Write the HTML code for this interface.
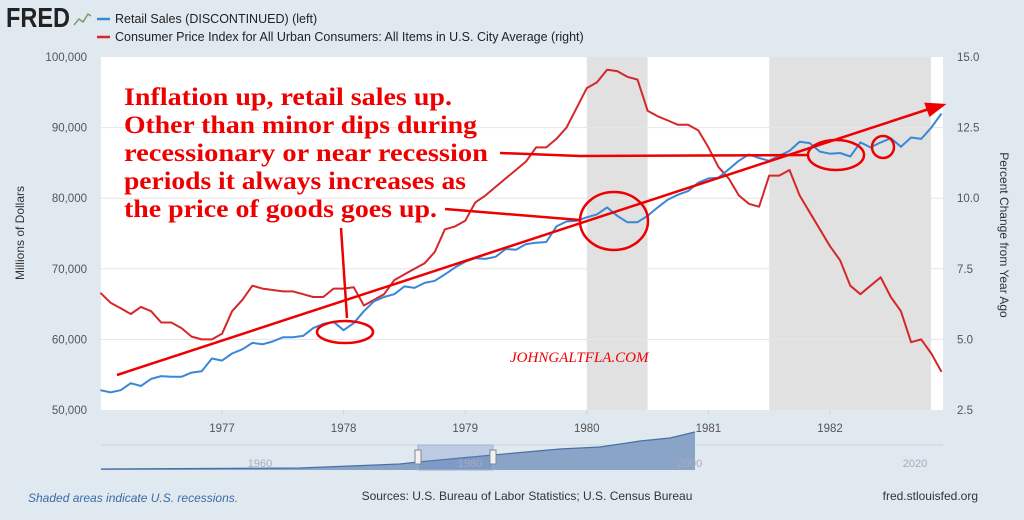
<!DOCTYPE html>
<html><head><meta charset="utf-8"><style>
html,body{margin:0;padding:0;background:#e1e9f0;}
body{width:1024px;height:520px;overflow:hidden;font-family:"Liberation Sans",sans-serif;}
svg{display:block}
</style></head><body>
<svg id="chart" width="1024" height="520" xmlns="http://www.w3.org/2000/svg">
<rect width="1024" height="520" fill="#e1e9f0"/>
<g>
<text x="6" y="27" font-size="28" font-weight="bold" fill="#222" font-family="Liberation Sans, sans-serif" textLength="64" lengthAdjust="spacingAndGlyphs">FRED</text>
<polyline points="74,25 79,19 83,22 88,14 91,16" fill="none" stroke="#7a9b6a" stroke-width="1.5"/>
</g>
<g>
<line x1="97" y1="19" x2="110" y2="19" stroke="#3a87d8" stroke-width="2.5"/>
<text x="115" y="23" font-size="12.5" fill="#222">Retail Sales (DISCONTINUED) (left)</text>
<line x1="97" y1="37" x2="110" y2="37" stroke="#d62728" stroke-width="2.5"/>
<text x="115" y="41" font-size="12.5" fill="#222">Consumer Price Index for All Urban Consumers: All Items in U.S. City Average (right)</text>
</g>
<rect x="101" y="57" width="842" height="353" fill="#fff"/>
<g id="rec"></g><g id="grid"></g><g id="ticks"></g><g id="series"></g>
<text transform="translate(24,233) rotate(-90)" text-anchor="middle" font-size="12" fill="#333">Millions of Dollars</text>
<text transform="translate(1000,235) rotate(90)" text-anchor="middle" font-size="12" fill="#333">Percent Change from Year Ago</text>
<g>
<line x1="101" y1="445" x2="943" y2="445" stroke="#c8d2dc"/>
<path d="M101,469 L300,468 L400,464 L418,462 L493,455 L560,449 L600,447 L640,441 L670,438 L695,432 L695,470 L101,470 Z" fill="#8aa4c8"/>
<polyline points="101,469 300,468 400,464 418,462 493,455 560,449 600,447 640,441 670,438 695,432" fill="none" stroke="#4a6fa5" stroke-width="1.2"/>
<rect x="418" y="445" width="75" height="25" fill="rgba(102,133,194,0.3)" stroke="#9fb2d0"/>
<rect x="415" y="450" width="6" height="14" fill="#f2f2f2" stroke="#888"/>
<rect x="490" y="450" width="6" height="14" fill="#f2f2f2" stroke="#888"/>
<text x="260" y="467" font-size="11" fill="#aab" text-anchor="middle">1960</text>
<text x="470" y="467" font-size="11" fill="#aab" text-anchor="middle">1980</text>
<text x="690" y="467" font-size="11" fill="#aab" text-anchor="middle">2000</text>
<text x="915" y="467" font-size="11" fill="#aab" text-anchor="middle">2020</text>
</g>
<text x="28" y="502" font-size="12" font-style="italic" fill="#3a6ba8">Shaded areas indicate U.S. recessions.</text>
<text x="527" y="500" font-size="12" fill="#333" text-anchor="middle">Sources: U.S. Bureau of Labor Statistics; U.S. Census Bureau</text>
<text x="978" y="500" font-size="12" fill="#333" text-anchor="end">fred.stlouisfed.org</text>
<g font-family="Liberation Serif, serif" font-weight="bold" font-size="25" fill="#e00">
<text x="124" y="105" textLength="328" lengthAdjust="spacingAndGlyphs">Inflation up, retail sales up.</text>
<text x="124" y="133" textLength="353" lengthAdjust="spacingAndGlyphs">Other than minor dips during</text>
<text x="124" y="161" textLength="364" lengthAdjust="spacingAndGlyphs">recessionary or near recession</text>
<text x="124" y="189" textLength="342" lengthAdjust="spacingAndGlyphs">periods it always increases as</text>
<text x="124" y="217" textLength="313" lengthAdjust="spacingAndGlyphs">the price of goods goes up.</text>
</g>
<text x="510" y="362" font-family="Liberation Serif, serif" font-style="italic" font-size="15" fill="#e00">JOHNGALTFLA.COM</text>
<g stroke="#e00" stroke-width="2.5" fill="none">
<line x1="117" y1="375" x2="932" y2="108"/>
<polygon points="943,105 926,104 930,115" fill="#e00"/>
<polyline points="500,153 580,156 808,155"/>
<line x1="445" y1="209" x2="580" y2="220"/>
<line x1="341" y1="228" x2="347" y2="318"/>
<ellipse cx="345" cy="332" rx="28" ry="11"/>
<ellipse cx="614" cy="221" rx="34" ry="29"/>
<ellipse cx="836" cy="155" rx="28" ry="15"/>
<ellipse cx="883" cy="147" rx="11" ry="11"/>
</g>
</svg>
<script>
const years=["1977","1978","1979","1980","1981","1982"];
const leftTicks=[50000,60000,70000,80000,90000,100000];
const rightTicks=[2.5,5.0,7.5,10.0,12.5,15.0];
const recessions=[[1980.0,1980.5],[1981.5,1982.83]];
const retailSales=[52.8,52.5,52.8,53.8,53.4,54.4,54.8,54.7,54.7,55.3,55.5,57.3,
57.0,58.0,58.6,59.5,59.3,59.7,60.3,60.3,60.5,61.6,62.2,62.5,
61.3,62.3,64.0,65.4,66.0,66.4,67.5,67.3,68.0,68.3,69.2,70.2,
71.0,71.5,71.4,71.7,72.8,72.7,73.5,73.7,73.8,76.0,76.7,76.8,
77.3,77.7,78.7,77.5,76.6,76.6,77.5,78.7,79.8,80.5,81.0,82.2,
82.8,82.9,84.1,85.3,86.2,85.7,85.3,86.0,86.7,88.0,87.8,86.6,
86.3,86.4,85.9,87.9,87.2,87.9,88.5,87.3,88.6,88.4,90.0,92.0];
const cpi=[6.65,6.3,6.1,5.9,6.15,6.0,5.6,5.6,5.4,5.1,5.0,5.0,
5.2,6.0,6.4,6.9,6.8,6.75,6.7,6.7,6.6,6.5,6.5,6.8,
6.8,6.85,6.2,6.4,6.6,7.1,7.3,7.5,7.7,8.1,8.9,9.0,
9.2,9.85,10.1,10.4,10.7,11.0,11.3,11.8,11.8,12.1,12.5,13.2,
13.9,14.1,14.55,14.5,14.3,14.2,13.1,12.9,12.75,12.6,12.6,12.4,
11.8,11.1,10.7,10.1,9.8,9.7,10.8,10.8,11.0,10.1,9.5,8.9,
8.3,7.8,6.9,6.6,6.9,7.2,6.5,6.0,4.9,5.0,4.5,3.85];
const NS="http://www.w3.org/2000/svg";
const X0=101,X1=943,Y0=57,Y1=410;
const xT=t=>100.4+(t-1976)*121.6;
const yL=v=>Y1-(v-50000)/50000*(Y1-Y0);
const yR=v=>Y1-(v-2.5)/12.5*(Y1-Y0);
function mk(tag,attrs,parent){const e=document.createElementNS(NS,tag);for(const k in attrs)e.setAttribute(k,attrs[k]);document.getElementById(parent).appendChild(e);return e;}
recessions.forEach(r=>{const e=mk('rect',{x:xT(r[0]),y:Y0,width:xT(r[1])-xT(r[0]),height:Y1-Y0,fill:'#e1e1e1'},'rec');

});
leftTicks.forEach((v,i)=>{const y=yL(v);
if(i>0&&i<leftTicks.length-1){const g=mk('line',{x1:X0,x2:X1,y1:y,y2:y,stroke:'#e6e6e6'},'grid');

}
const t=mk('text',{x:87,y:y+4,'font-size':11.5,fill:'#555','text-anchor':'end'},'ticks');t.textContent=v.toLocaleString('en-US');

});
rightTicks.forEach(v=>{const t=mk('text',{x:957,y:yR(v)+4,'font-size':11.5,fill:'#555'},'ticks');t.textContent=v.toFixed(1);

});
years.forEach(yr=>{const x=xT(+yr);mk('line',{x1:x,x2:x,y1:Y1,y2:Y1+5,stroke:'#ccd6e0'},'ticks');
const t=mk('text',{x:x,y:432,'font-size':11.5,fill:'#555','text-anchor':'middle'},'ticks');t.textContent=yr;

});
function line(arr,yf,color,name){const pts=arr.map((v,i)=>xT(1976+i/12).toFixed(1)+','+yf(v).toFixed(1)).join(' ');
const p=mk('polyline',{points:pts,fill:'none',stroke:color,'stroke-width':2,'stroke-linejoin':'round'},'series');

}
line(cpi,yR,'#d62728','cpi-line');
line(retailSales.map(v=>v*1000),yL,'#3a87d8','retail-sales-line');
</script>
</body></html>
